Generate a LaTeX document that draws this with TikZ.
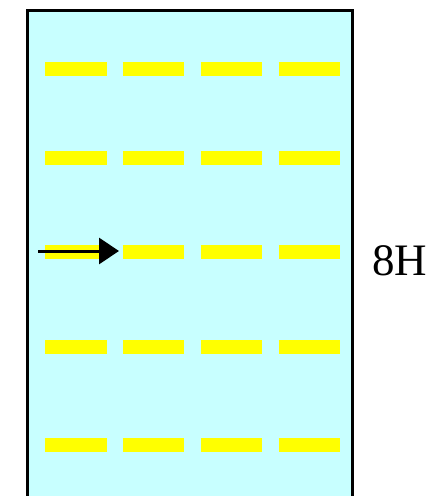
\documentclass[tikz,border=0pt]{standalone}
\usepackage{fontspec}
\setmainfont{Liberation Serif}
\usetikzlibrary{arrows.meta}
\definecolor{gelcyan}{HTML}{C8FFFF}
\definecolor{bandyellow}{HTML}{FFFF00}
\tikzset{
  gel/.style={draw=black, line width=1.5pt, fill=gelcyan},
  band/.style={draw=bandyellow, line width=7pt},
  pointer/.style={-{Triangle[length=10pt, width=13pt]}, line width=1.5pt, draw=black},
  lbl/.style={font=\fontsize{22.5}{27}\selectfont, anchor=west, inner sep=0pt}
}
\begin{document}
\begin{tikzpicture}[x=0.5pt, y=-0.5pt]
  \useasboundingbox (0,0) rectangle (444,496);
  \begin{scope}
    \clip (0,0) rectangle (444,496);
    \draw[gel] (27,10.5) rectangle (352.5,520);
  \end{scope}

  % bands
  \foreach \yy in {69,158,252,347,445}
    \foreach \xx in {45,122.5,200.5,278.5}
      \draw[band] (\xx,\yy) -- ++(61.5,0);

  \coordinate (tail) at (38,251);
  \coordinate (head) at (119,251);
  \draw[pointer] (tail) -- (head);

  \node[lbl] (marker) at (372,261) {8H};
\end{tikzpicture}
\end{document}
